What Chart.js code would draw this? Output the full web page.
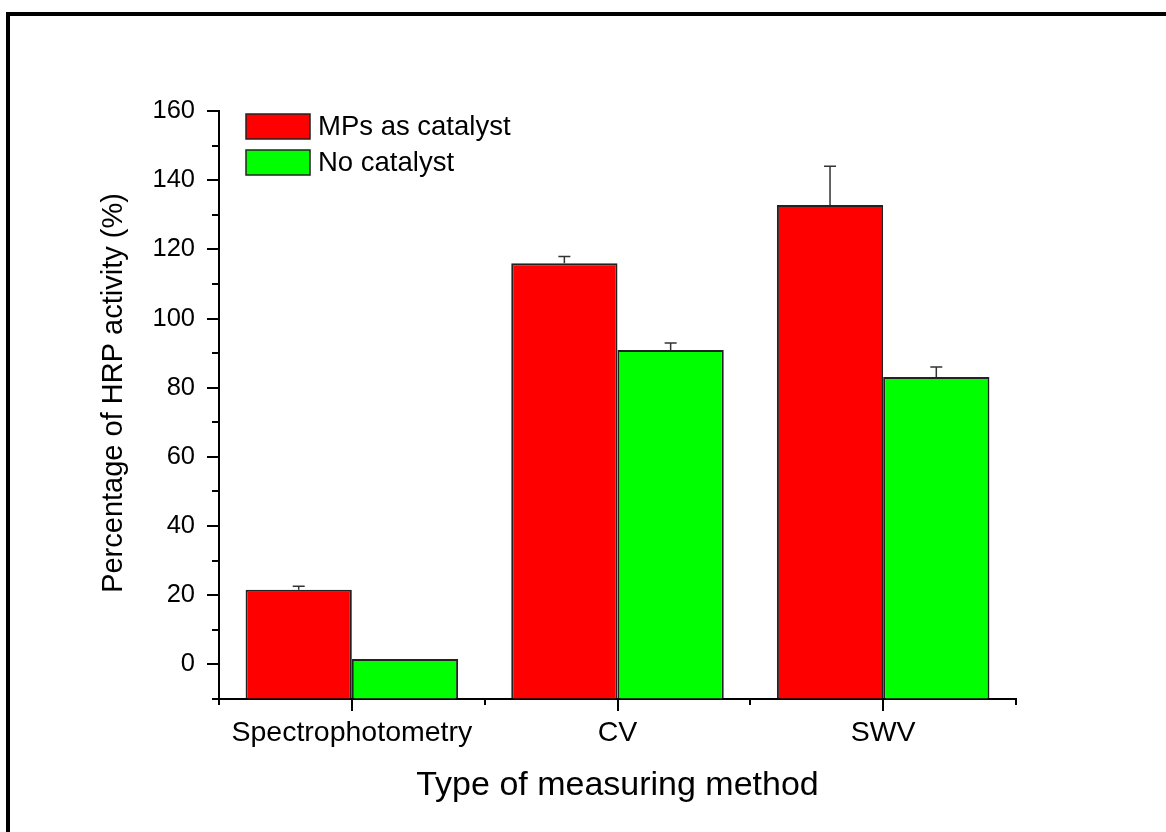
<!DOCTYPE html>
<html>
<head>
<meta charset="utf-8">
<title>HRP activity</title>
<script src="https://cdn.jsdelivr.net/npm/chart.js@4/dist/chart.umd.min.js"></script>
<style>
  html, body { margin: 0; padding: 0; background: #fff; overflow: hidden; }
  #wrap { position: relative; width: 1166px; height: 832px; }
  #frame {
    position: absolute; left: 6px; top: 12px; width: 1400px; height: 1000px;
    border-top: 4px solid #000; border-left: 4px solid #000; pointer-events: none;
  }
</style>
</head>
<body>
<div id="wrap">
  <canvas id="myChart" width="1166" height="832"></canvas>
  <div id="frame"></div>
</div>
<script>
const methods = ['Spectrophotometry', 'CV', 'SWV'];
const seriesNames = ['MPs as catalyst', 'No catalyst'];
const mpsValues = [21.6, 116.0, 132.8];
const mpsErrors = [1.0, 1.9, 11.2];
const noCatValues = [1.6, 90.9, 83.1];
const noCatErrors = [0, 2.0, 2.9];
const yMin = -10;
const yMax = 160;

const fontFamily = '"Liberation Sans", Arial, sans-serif';

// error bars, upward only, with a short cap
const errorBars = {
    id: 'errorBars',
    afterDatasetsDraw(chart) {
        const ctx = chart.ctx;
        const y = chart.scales.y;
        ctx.save();
        ctx.strokeStyle = '#333';
        ctx.lineWidth = 1.5;
        chart.data.datasets.forEach((ds, i) => {
            const meta = chart.getDatasetMeta(i);
            meta.data.forEach((bar, j) => {
                const err = ds.errors[j];
                if (!err) return;
                const top = y.getPixelForValue(ds.data[j] + err);
                ctx.beginPath();
                ctx.moveTo(bar.x, bar.y);
                ctx.lineTo(bar.x, top);
                ctx.moveTo(bar.x - 6, top);
                ctx.lineTo(bar.x + 6, top);
                ctx.stroke();
            });
        });
        ctx.restore();
    }
};

// outward tick marks: major and minor on both axes
const tickMarks = {
    id: 'tickMarks',
    afterDraw(chart) {
        const ctx = chart.ctx;
        const x = chart.scales.x;
        const y = chart.scales.y;
        const area = chart.chartArea;
        ctx.save();
        ctx.strokeStyle = '#000';
        ctx.lineWidth = 2;
        ctx.beginPath();
        for (let v = yMin; v <= yMax; v += 10) {
            const py = Math.round(y.getPixelForValue(v));
            const len = v % 20 === 0 ? 12 : 7;
            ctx.moveTo(area.left, py);
            ctx.lineTo(area.left - len, py);
        }
        methods.forEach((m, i) => {
            const px = Math.round(x.getPixelForValue(i));
            ctx.moveTo(px, area.bottom);
            ctx.lineTo(px, area.bottom + 12);
        });
        const step = (area.right - area.left) / methods.length;
        for (let i = 0; i <= methods.length; i++) {
            const px = Math.round(area.left + i * step);
            ctx.moveTo(px, area.bottom);
            ctx.lineTo(px, area.bottom + 6);
        }
        ctx.stroke();
        ctx.restore();
    }
};

// legend inside the plot, top left
const innerLegend = {
    id: 'innerLegend',
    afterDraw(chart) {
        const ctx = chart.ctx;
        ctx.save();
        ctx.font = '27.5px ' + fontFamily;
        ctx.textBaseline = 'middle';
        chart.data.datasets.forEach((ds, i) => {
            const top = 114 + i * 36;
            ctx.fillStyle = ds.backgroundColor;
            ctx.fillRect(246, top, 64, 25);
            ctx.strokeStyle = '#222';
            ctx.lineWidth = 1.5;
            ctx.strokeRect(246, top, 64, 25);
            ctx.fillStyle = '#000';
            ctx.fillText(ds.label, 318, top + 13);
        });
        ctx.restore();
    }
};

// rotated y-axis title
const yTitle = {
    id: 'yTitle',
    afterDraw(chart) {
        const ctx = chart.ctx;
        ctx.save();
        ctx.font = '29px ' + fontFamily;
        ctx.fillStyle = '#000';
        ctx.textAlign = 'center';
        ctx.textBaseline = 'middle';
        ctx.translate(114, 393);
        ctx.rotate(-Math.PI / 2);
        ctx.fillText('Percentage of HRP activity (%)', 0, 0);
        ctx.restore();
    }
};

window.onload = () => {
    const ctx = document.getElementById('myChart').getContext('2d');
    new Chart(ctx, {
        type: 'bar',
        data: {
            labels: methods,
            datasets: [{
                label: seriesNames[0],
                data: mpsValues,
                errors: mpsErrors,
                backgroundColor: '#ff0000',
                borderColor: '#222',
                borderWidth: 2,
                base: yMin
            }, {
                label: seriesNames[1],
                data: noCatValues,
                errors: noCatErrors,
                backgroundColor: '#00ff00',
                borderColor: '#222',
                borderWidth: 2,
                base: yMin
            }]
        },
        options: {
            responsive: false,
            animation: false,
            categoryPercentage: 0.8,
            barPercentage: 1.0,
            layout: { padding: { left: 0, top: 111, right: 150, bottom: 0 } },
            plugins: {
                legend: { display: false },
                tooltip: { enabled: false }
            },
            scales: {
                x: {
                    grid: { display: true, drawOnChartArea: false, drawTicks: false },
                    border: { display: true, color: '#000', width: 2 },
                    ticks: {
                        color: '#000',
                        padding: 17,
                        font: { family: fontFamily, size: 28.5 }
                    },
                    title: {
                        display: true,
                        text: 'Type of measuring method',
                        color: '#000',
                        font: { family: fontFamily, size: 34 },
                        padding: { top: 0, bottom: 26 }
                    },
                    afterFit: (scale) => { scale.height = 133; }
                },
                y: {
                    min: yMin,
                    max: yMax,
                    grid: { display: true, drawOnChartArea: false, drawTicks: false },
                    border: { display: true, color: '#000', width: 2 },
                    ticks: {
                        stepSize: 10,
                        color: '#000',
                        padding: 24,
                        font: { family: fontFamily, size: 25.5 },
                        callback: (v) => (v % 20 === 0 ? v : '')
                    },
                    afterFit: (scale) => { scale.width = 219; }
                }
            }
        },
        plugins: [errorBars, tickMarks, innerLegend, yTitle]
    });
};
</script>
</body>
</html>
